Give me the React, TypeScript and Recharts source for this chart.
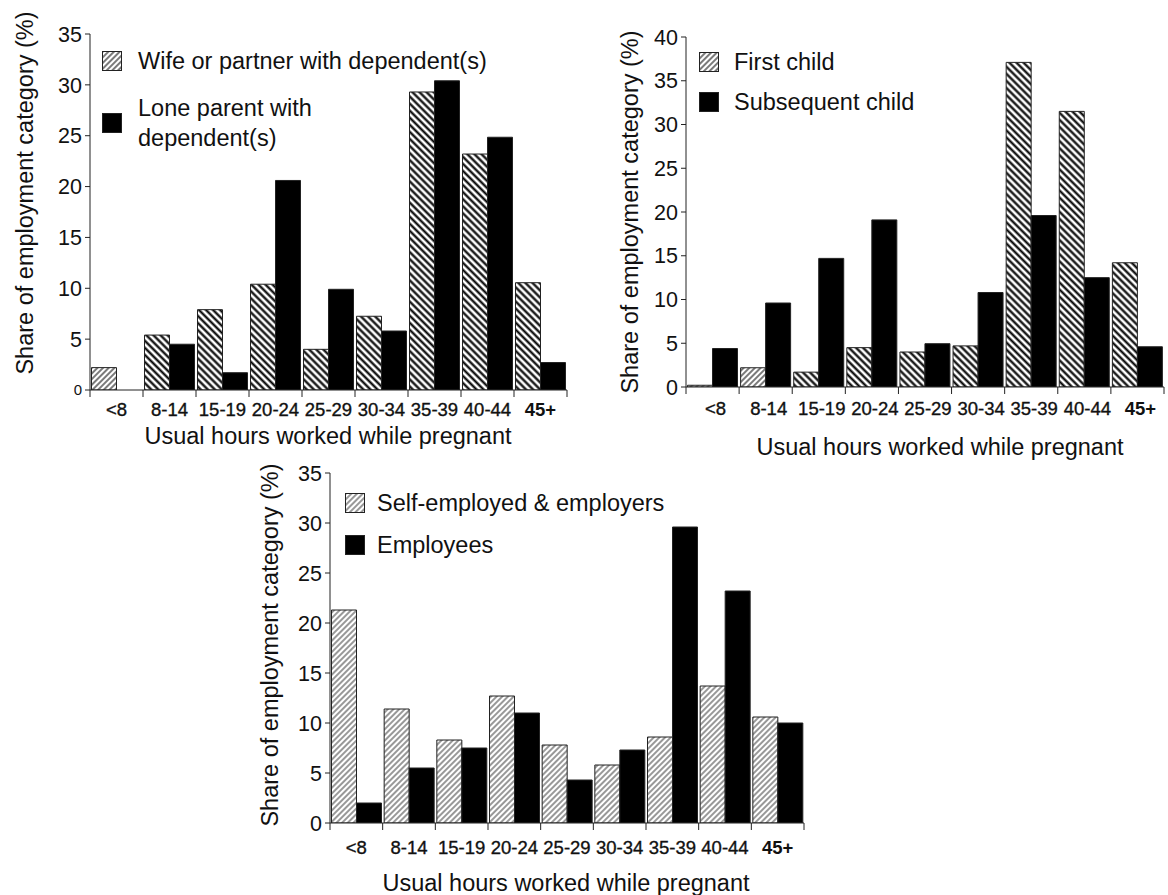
import React from "react";
import { BarChart, Bar, XAxis, YAxis, Cell } from "recharts";

// hour bands shared by all three panels
const hours = ["<8", "8-14", "15-19", "20-24", "25-29", "30-34", "35-39", "40-44", "45+"];

// panel 1: household type
const wifePartner = [2.2, 5.4, 7.9, 10.4, 4.0, 7.25, 29.3, 23.2, 10.55];
const loneParent = [0, 4.5, 1.7, 20.6, 9.9, 5.8, 30.4, 24.85, 2.7];

// panel 2: birth order
const firstChild = [0.2, 2.2, 1.7, 4.5, 4.0, 4.7, 37.1, 31.5, 14.2];
const subsequentChild = [4.4, 9.6, 14.7, 19.1, 4.95, 10.8, 19.6, 12.5, 4.6];

// panel 3: employment status
const selfEmployed = [21.3, 11.4, 8.3, 12.7, 7.8, 5.8, 8.6, 13.7, 10.6];
const employees = [2.0, 5.5, 7.5, 11.0, 4.3, 7.3, 29.6, 23.2, 10.0];

const ticks35 = [0, 5, 10, 15, 20, 25, 30, 35];
const ticks40 = [0, 5, 10, 15, 20, 25, 30, 35, 40];

const yTitle = "Share of employment category (%)";
const xTitle = "Usual hours worked while pregnant";

const FONT = '"Liberation Sans", Arial, Helvetica, sans-serif';
const INK = "#111";
const AXIS = "#222";

type Hatch = "fwd" | "back";

interface Panel {
  id: string;
  left: number;
  top: number;
  width: number;
  height: number;
  margin: { top: number; right: number; bottom: number; left: number };
  yMax: number;
  yTicks: number[];
  names: string[];
  a: number[];
  b: number[];
  hatch: Hatch[];
  light: boolean;
  labelDy: number;
  labelDx: number;
  smallZero: boolean;
  legend: { x: number; cy: number[]; textX: number };
  yTitlePos: [number, number];
  xTitlePos: [number, number];
}

const panels: Panel[] = [
  {
    id: "p1",
    left: 0, top: 0, width: 600, height: 450,
    margin: { top: 34, right: 33, bottom: 20, left: 30 },
    yMax: 35, yTicks: ticks35,
    names: ["Wife or partner with dependent(s)", "Lone parent with\ndependent(s)"],
    a: wifePartner, b: loneParent,
    hatch: ["fwd", "back", "back", "back", "back", "back", "back", "back", "back"],
    light: false,
    labelDy: 19, labelDx: 0, smallZero: true,
    legend: { x: 102, cy: [60.5, 123], textX: 138 },
    yTitlePos: [25, 193],
    xTitlePos: [328, 436],
  },
  {
    id: "p2",
    left: 584, top: 0, width: 584, height: 460,
    margin: { top: 37, right: 4, bottom: 33, left: 42 },
    yMax: 40, yTicks: ticks40,
    names: ["First child", "Subsequent child"],
    a: firstChild, b: subsequentChild,
    hatch: ["fwd", "fwd", "back", "back", "back", "back", "back", "back", "back"],
    light: false,
    labelDy: 21, labelDx: 3, smallZero: false,
    legend: { x: 115, cy: [61.5, 102], textX: 150 },
    yTitlePos: [630, 212],
    xTitlePos: [940, 447],
  },
  {
    id: "p3",
    left: 220, top: 440, width: 600, height: 455,
    margin: { top: 33, right: 16, bottom: 32, left: 50 },
    yMax: 35, yTicks: ticks35,
    names: ["Self-employed & employers", "Employees"],
    a: selfEmployed, b: employees,
    hatch: ["fwd", "fwd", "fwd", "fwd", "fwd", "fwd", "fwd", "fwd", "fwd"],
    light: true,
    labelDy: 24, labelDx: 0, smallZero: false,
    legend: { x: 125, cy: [63, 105], textX: 157 },
    yTitlePos: [270, 645],
    xTitlePos: [566, 883],
  },
];

function Patterns({ id, light }: { id: string; light: boolean }) {
  return (
    <defs>
      <pattern id={`${id}-fwd`} patternUnits="userSpaceOnUse" width={4} height={4} patternTransform="rotate(45)">
        <rect width={4} height={4} fill="#fff" />
        <line x1={1} y1={0} x2={1} y2={4} stroke={light ? "#444" : "#333"} strokeWidth={light ? 1.1 : 1.3} />
      </pattern>
      <pattern id={`${id}-back`} patternUnits="userSpaceOnUse" width={5} height={5} patternTransform="rotate(-45)">
        <rect width={5} height={5} fill="#fff" />
        <line x1={1.5} y1={0} x2={1.5} y2={5} stroke="#000" strokeWidth={2.2} />
      </pattern>
    </defs>
  );
}

function HoursTick(props: any) {
  const { x, y, payload, index, band, dy, dx } = props;
  const last = index === hours.length - 1;
  return (
    <g>
      <line x1={x - band / 2} y1={y} x2={x - band / 2} y2={y + 7} stroke={AXIS} strokeWidth={1} />
      {last && <line x1={x + band / 2} y1={y} x2={x + band / 2} y2={y + 7} stroke={AXIS} strokeWidth={1} />}
      <text
        x={x + dx}
        y={y + dy}
        dy="0.36em"
        textAnchor="middle"
        fontSize={18.5}
        fontWeight={last ? 700 : 400}
        fontFamily={FONT}
        fill={INK}
        stroke={INK}
        strokeWidth={last ? 0 : 0.35}
      >
        {payload.value}
      </text>
    </g>
  );
}

function ShareTick(props: any) {
  const { x, y, payload, smallZero } = props;
  const small = smallZero && payload.value === 0;
  return (
    <text x={x} y={y} dy="0.36em" textAnchor="end" fontSize={small ? 15 : 21.5} fontFamily={FONT} fill={INK}>
      {payload.value}
    </text>
  );
}

function PanelChart({ p }: { p: Panel }) {
  const rows = hours.map((h, i) => ({ hours: h, a: p.a[i], b: p.b[i] }));
  const plotW = p.width - p.margin.left - 60 - p.margin.right;
  const band = plotW / hours.length;

  return (
    <div style={{ position: "absolute", left: p.left, top: p.top, width: p.width, height: p.height }}>
      <BarChart
        width={p.width}
        height={p.height}
        data={rows}
        margin={p.margin}
        barCategoryGap={1.5}
        barGap={0}
        style={{ overflow: "visible" }}
      >
        <Patterns id={p.id} light={p.light} />
        <XAxis
          dataKey="hours"
          interval={0}
          height={40}
          tickSize={0}
          tickMargin={0}
          tickLine={false}
          axisLine={{ stroke: AXIS, strokeWidth: 1 }}
          tick={(t: any) => <HoursTick {...t} band={band} dy={p.labelDy} dx={p.labelDx} />}
        />
        <XAxis xAxisId="frameTop" orientation="top" height={0} tick={false} tickLine={false} axisLine={{ stroke: "#444", strokeWidth: 1 }} />
        <YAxis
          domain={[0, p.yMax]}
          ticks={p.yTicks}
          width={60}
          tickSize={5}
          tickMargin={3}
          allowDataOverflow
          axisLine={{ stroke: AXIS, strokeWidth: 1 }}
          tickLine={{ stroke: AXIS, strokeWidth: 1 }}
          tick={(t: any) => <ShareTick {...t} smallZero={p.smallZero} />}
        />
        <YAxis yAxisId="frameRight" orientation="right" width={0} tick={false} tickLine={false} axisLine={{ stroke: "#444", strokeWidth: 1 }} />
        <Bar dataKey="a" name={p.names[0]} stroke="#222" strokeWidth={1} isAnimationActive={false}>
          {rows.map((_, i) => (
            <Cell key={i} fill={`url(#${p.id}-${p.hatch[i]})`} />
          ))}
        </Bar>
        <Bar dataKey="b" name={p.names[1]} fill="#000" stroke="#222" strokeWidth={1} isAnimationActive={false} />
      </BarChart>

      {p.names.map((name, i) => (
        <div
          key={name}
          style={{
            position: "absolute",
            left: p.legend.x,
            top: p.legend.cy[i],
            transform: "translateY(-50%)",
            display: "flex",
            alignItems: "center",
          }}
        >
          <svg width={20} height={20} style={{ display: "block" }}>
            <rect
              x={0.5}
              y={0.5}
              width={19}
              height={19}
              fill={i === 0 ? `url(#${p.id}-fwd)` : "#000"}
              stroke="#222"
              strokeWidth={1}
            />
          </svg>
          <span
            style={{
              marginLeft: p.legend.textX - p.legend.x - 20,
              fontSize: 23.5,
              lineHeight: "30px",
              color: INK,
              whiteSpace: "pre",
            }}
          >
            {name}
          </span>
        </div>
      ))}
    </div>
  );
}

export default function App() {
  return (
    <div
      style={{
        position: "absolute",
        left: 0,
        top: 0,
        width: 1168,
        height: 895,
        background: "#fff",
        fontFamily: FONT,
        overflow: "hidden",
      }}
    >
      {panels.map((p) => (
        <PanelChart key={p.id} p={p} />
      ))}
      {panels.map((p) => (
        <React.Fragment key={`${p.id}-titles`}>
          <div
            style={{
              position: "absolute",
              left: p.yTitlePos[0],
              top: p.yTitlePos[1],
              transform: "translate(-50%, -50%) rotate(-90deg)",
              fontSize: 23.5,
              color: INK,
              whiteSpace: "nowrap",
            }}
          >
            {yTitle}
          </div>
          <div
            style={{
              position: "absolute",
              left: p.xTitlePos[0],
              top: p.xTitlePos[1],
              transform: "translate(-50%, -50%)",
              fontSize: 23.5,
              color: INK,
              whiteSpace: "nowrap",
            }}
          >
            {xTitle}
          </div>
        </React.Fragment>
      ))}
    </div>
  );
}
